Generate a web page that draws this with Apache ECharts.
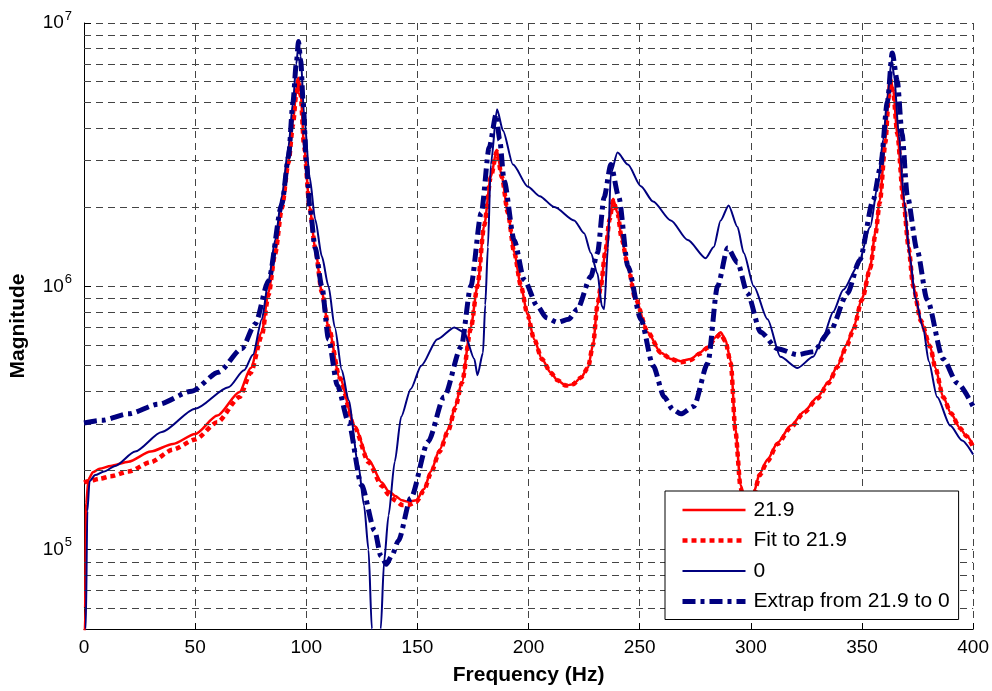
<!DOCTYPE html>
<html>
<head>
<meta charset="utf-8">
<script src="https://cdn.jsdelivr.net/npm/echarts@6/dist/echarts.min.js"></script>
<style>
  html, body { margin: 0; padding: 0; background: #fff; }
  #chart { width: 992px; height: 691px; }
</style>
</head>
<body>
<div id="chart"></div>
<script>
// Frequency response magnitudes (Hz vs. magnitude, log scale)

const freqMeas = [0, 0.5, 1, 2, 4, 7, 12, 20, 30, 40, 50, 60, 70, 75, 80, 83, 86, 89, 92, 94, 95.5, 96.5, 97.5, 99, 101.5, 104, 107, 110, 115, 121.7, 128, 134, 137, 140, 143, 146, 149.5, 153, 156, 160, 164, 167, 170, 174, 177, 180, 183, 185.7, 188, 190.7, 193.5, 196.6, 199.5, 202.5, 206, 210, 213, 216.8, 220, 223.5, 226.7, 229, 231, 232.5, 234.5, 236.5, 238, 240, 242, 244.7, 248, 253.6, 259.5, 264, 268.5, 273, 277, 280.6, 284, 286.4, 288.5, 291, 293, 295.4, 298, 301.3, 304, 307.5, 312, 318, 324, 330, 335, 339, 343, 346, 350, 353.7, 356, 358, 360.5, 362, 362.7, 364, 365.9, 368.6, 371, 373, 376.5, 380.7, 383, 386.5, 390, 394, 397, 400];
const magMeas = [3e4, 6e4, 1.5e5, 1.85e5, 1.97e5, 2.03e5, 2.08e5, 2.16e5, 2.36e5, 2.52e5, 2.75e5, 3.23e5, 3.97e5, 4.9e5, 6.7e5, 9.5e5, 1.35e6, 2e6, 3e6, 4.2e6, 5.5e6, 6.2e6, 5.4e6, 3.4e6, 2e6, 1.4e6, 9.5e5, 7e5, 4.5e5, 2.95e5, 2.2e5, 1.8e5, 1.67e5, 1.6e5, 1.54e5, 1.52e5, 1.54e5, 1.7e5, 1.98e5, 2.4e5, 2.88e5, 3.5e5, 4.33e5, 7e5, 1.0e6, 1.7e6, 2.6e6, 3.3e6, 2.6e6, 1.9e6, 1.35e6, 1e6, 7.8e5, 6.3e5, 5.3e5, 4.7e5, 4.4e5, 4.2e5, 4.25e5, 4.5e5, 4.9e5, 6e5, 8.5e5, 1.0e6, 1.35e6, 1.8e6, 2.15e6, 1.9e6, 1.5e6, 1.19e6, 9e5, 6.7e5, 5.6e5, 5.3e5, 5.2e5, 5.3e5, 5.6e5, 5.9e5, 6.4e5, 6.7e5, 6.3e5, 5.2e5, 2.9e5, 1.76e5, 1.3e5, 1.65e5, 1.95e5, 2.2e5, 2.55e5, 2.96e5, 3.35e5, 3.8e5, 4.35e5, 5e5, 6e5, 6.9e5, 9e5, 1.19e6, 1.6e6, 2.12e6, 3.6e6, 5.3e6, 6.2e6, 5.6e6, 3.8e6, 2.12e6, 1.4e6, 1e6, 7.4e5, 5.9e5, 4.9e5, 3.8e5, 3.3e5, 2.9e5, 2.7e5, 2.5e5];

const freqFit = [0, 2, 7, 12, 20, 30, 40, 50, 60, 70, 75, 80, 83, 86, 89, 92, 94, 95.5, 96.5, 97.5, 99, 101.5, 104, 107, 110, 115, 121.7, 128, 134, 137, 140, 143, 146, 149.5, 153, 156, 160, 164, 167, 170, 174, 177, 180, 183, 185.7, 188, 190.7, 193.5, 196.6, 199.5, 202.5, 206, 210, 213, 216.8, 220, 223.5, 226.7, 229, 231, 232.5, 234.5, 236.5, 238, 240, 242, 244.7, 248, 253.6, 259.5, 264, 268.5, 273, 277, 280.6, 284, 286.4, 288.5, 291, 293, 295.4, 298, 301.3, 304, 307.5, 312, 318, 324, 330, 335, 339, 343, 346, 350, 353.7, 356, 358, 360.5, 362, 362.7, 364, 365.9, 368.6, 371, 373, 376.5, 380.7, 383, 386.5, 390, 394, 397, 400];
const magFit = [1.8e5, 1.82e5, 1.86e5, 1.9e5, 1.98e5, 2.15e5, 2.4e5, 2.62e5, 3.05e5, 3.8e5, 4.7e5, 6.5e5, 9.3e5, 1.33e6, 1.98e6, 2.95e6, 4.1e6, 5.4e6, 6.1e6, 5.3e6, 3.4e6, 2e6, 1.4e6, 9.5e5, 7e5, 4.5e5, 2.92e5, 2.15e5, 1.75e5, 1.62e5, 1.54e5, 1.48e5, 1.48e5, 1.52e5, 1.68e5, 1.95e5, 2.36e5, 2.85e5, 3.45e5, 4.3e5, 6.9e5, 1.0e6, 1.7e6, 2.6e6, 3.25e6, 2.6e6, 1.9e6, 1.35e6, 1e6, 7.8e5, 6.3e5, 5.3e5, 4.7e5, 4.4e5, 4.2e5, 4.25e5, 4.5e5, 4.9e5, 6e5, 8.5e5, 1.0e6, 1.35e6, 1.8e6, 2.12e6, 1.9e6, 1.5e6, 1.19e6, 9e5, 6.7e5, 5.6e5, 5.3e5, 5.15e5, 5.25e5, 5.55e5, 5.85e5, 6.35e5, 6.6e5, 6.2e5, 5.1e5, 2.85e5, 1.72e5, 1.28e5, 1.62e5, 1.92e5, 2.17e5, 2.52e5, 2.92e5, 3.32e5, 3.75e5, 4.3e5, 4.95e5, 5.9e5, 6.8e5, 8.9e5, 1.17e6, 1.57e6, 2.08e6, 3.5e6, 5.2e6, 6.1e6, 5.5e6, 3.8e6, 2.12e6, 1.4e6, 1e6, 7.4e5, 5.9e5, 4.9e5, 3.8e5, 3.3e5, 2.9e5, 2.7e5, 2.45e5];

const freqZero = [0, 0.8, 1.5, 2.5, 5, 9, 14, 23, 35, 50, 65, 72, 76, 80, 83, 86, 89, 92, 94, 95.5, 96.5, 97.5, 99, 101.5, 104, 107, 110, 112.8, 116, 119, 123.4, 126, 128, 129.5, 130.5, 132.5, 133.5, 135, 137, 139.8, 142.7, 147, 151.7, 159, 166.6, 171, 175.6, 177, 179.5, 180.5, 181.7, 183, 185.8, 188.5, 193, 199.7, 205, 211.6, 220.5, 225, 228, 231, 233, 234, 235.7, 237, 240, 244.7, 250.5, 256, 264, 271.6, 279.7, 283.3, 286.4, 290, 294, 296.8, 301.3, 307.5, 313.3, 321, 328, 332.7, 337, 341.6, 348, 353.7, 357, 359.5, 361.5, 363.3, 364.5, 366.5, 369, 371.5, 374, 377.6, 380, 383.8, 389.7, 395, 400];
const magZero = [2e4, 5e4, 1.4e5, 1.82e5, 1.92e5, 1.98e5, 2.08e5, 2.36e5, 2.8e5, 3.43e5, 4.14e5, 4.8e5, 5.5e5, 7.5e5, 1.05e6, 1.5e6, 2.2e6, 3.4e6, 5e6, 7e6, 8.3e6, 7.5e6, 4.5e6, 2.6e6, 1.8e6, 1.3e6, 1e6, 7e5, 4.8e5, 3.7e5, 2.1e5, 1.47e5, 1e5, 5e4, 2e4, 2e4, 5e4, 9e4, 1.35e5, 2.16e5, 3.2e5, 4.08e5, 5e5, 6.3e5, 6.98e5, 6.7e5, 5.3e5, 4.6e5, 5.6e5, 8.5e5, 1.41e6, 2.9e6, 4.7e6, 3.9e6, 2.9e6, 2.39e6, 2.2e6, 2e6, 1.78e6, 1.59e6, 1.34e6, 1.12e6, 8.4e5, 8.2e5, 1.4e6, 2.68e6, 3.22e6, 2.9e6, 2.4e6, 2.1e6, 1.78e6, 1.5e6, 1.28e6, 1.41e6, 1.78e6, 2.03e6, 1.68e6, 1.34e6, 1e6, 7.5e5, 5.4e5, 4.9e5, 5.4e5, 6.5e5, 8e5, 9.7e5, 1.19e6, 1.68e6, 2.4e6, 3.6e6, 5.3e6, 7.2e6, 6.3e6, 3.8e6, 2.1e6, 1.3e6, 9e5, 6.9e5, 5.2e5, 3.8e5, 2.96e5, 2.6e5, 2.3e5];

const freqExtrap = [0, 8, 20, 33.5, 48.5, 60.5, 71, 77, 83, 89, 92, 94, 95.5, 96.5, 97.5, 98.6, 100, 101.6, 104, 107, 110, 114, 119, 124.8, 130.8, 133.5, 136, 138.5, 141.4, 147, 154.8, 162, 169.7, 174, 178.7, 182.3, 185.4, 187, 189, 193.5, 198, 204, 208, 213, 218, 222, 228, 231, 234, 237, 240.6, 244.7, 250.5, 256, 261, 265, 268.5, 274.3, 280.6, 285, 289.6, 294, 298.5, 304.4, 312, 321, 328, 335.8, 343.4, 349, 355, 358.3, 361.4, 363.6, 365.9, 368, 370.4, 374.8, 379.3, 386.5, 392.8, 400];
const magExtrap = [3.03e5, 3.1e5, 3.28e5, 3.57e5, 4.0e5, 4.72e5, 5.8e5, 7.2e5, 1.05e6, 2.05e6, 3.1e6, 5e6, 7e6, 8.5e6, 7.2e6, 5e6, 3e6, 2e6, 1.4e6, 1e6, 6.3e5, 4.2e5, 3.05e5, 1.76e5, 1.18e5, 9.5e4, 8.8e4, 9.5e4, 1.08e5, 1.57e5, 2.57e5, 3.8e5, 5.9e5, 1.0e6, 1.9e6, 3.37e6, 4.5e6, 3.6e6, 2.52e6, 1.5e6, 1.06e6, 8.4e5, 7.6e5, 7.3e5, 7.5e5, 8.2e5, 1.09e6, 1.34e6, 2.18e6, 2.9e6, 2.18e6, 1.19e6, 7.5e5, 5e5, 3.8e5, 3.4e5, 3.28e5, 3.5e5, 5.1e5, 1.0e6, 1.4e6, 1.23e6, 9.4e5, 6.7e5, 5.8e5, 5.5e5, 5.65e5, 6.8e5, 9.4e5, 1.26e6, 2.12e6, 2.83e6, 5e6, 7.7e6, 6e6, 3.8e6, 2.2e6, 1.37e6, 8.9e5, 5.3e5, 4.3e5, 3.5e5];

const seriesNames = ['21.9', 'Fit to 21.9', '0', 'Extrap from 21.9 to 0'];
const xTicks = [0, 50, 100, 150, 200, 250, 300, 350, 400];
const minorGridValues = [6e4, 7e4, 8e4, 9e4, 2e5, 3e5, 4e5, 5e5, 6e5, 7e5, 8e5, 9e5, 2e6, 3e6, 4e6, 5e6, 6e6, 7e6, 8e6, 9e6];

const RED = '#ff0000';
const NAVY = '#00007f';
const GRID = '#444444';
const FONT = 'Arial, "Liberation Sans", Helvetica, sans-serif';

// line styles shared by the plotted series and their legend samples
const styles = [
  { color: RED, width: 2.5, type: 'solid' },
  { color: RED, width: 4.5, type: [5, 4] },
  { color: NAVY, width: 2, type: 'solid' },
  { color: NAVY, width: 5, type: [13, 5, 4, 5] }
];

function pairs(xs, ys) {
  return xs.map((x, i) => [x, ys[i]]);
}

const chart = echarts.init(document.getElementById('chart'), null, { renderer: 'canvas' });

const lineBase = { type: 'line', symbol: 'none', showSymbol: false, smooth: 0.25, smoothMonotone: 'x', clip: true, animation: false };

const datasets = [
  pairs(freqMeas, magMeas),
  pairs(freqFit, magFit),
  pairs(freqZero, magZero),
  pairs(freqExtrap, magExtrap)
];

const curveSeries = seriesNames.map((name, i) => Object.assign({}, lineBase, {
  name: name,
  z: 3 + i,
  data: datasets[i],
  lineStyle: Object.assign({}, styles[i]),
  itemStyle: { color: styles[i].color }
}));

chart.setOption({
  backgroundColor: '#ffffff',
  animation: false,
  grid: { left: 82, right: 18, top: 23, bottom: 59, containLabel: false },
  xAxis: {
    type: 'value',
    min: 0, max: 400, interval: 50,
    name: 'Frequency (Hz)',
    nameLocation: 'middle',
    nameGap: 36,
    nameTextStyle: { fontFamily: FONT, fontSize: 21, fontWeight: 'bold', color: '#000' },
    axisLine: { show: true, lineStyle: { color: '#000', width: 1 } },
    axisTick: { show: true, inside: true, length: 6, lineStyle: { color: '#000' } },
    axisLabel: {
      fontFamily: FONT, fontSize: 19, color: '#000', margin: 9,
      formatter: v => (xTicks.indexOf(v) >= 0 ? String(v) : '')
    },
    splitLine: { show: true, lineStyle: { color: GRID, type: [7, 5], width: 1 } }
  },
  yAxis: {
    type: 'log',
    logBase: 10,
    min: 5e4, max: 1e7,
    name: 'Magnitude',
    nameLocation: 'middle',
    nameGap: 55,
    nameRotate: 90,
    nameTextStyle: { fontFamily: FONT, fontSize: 21, fontWeight: 'bold', color: '#000' },
    axisLine: { show: true, lineStyle: { color: '#000', width: 1 } },
    axisTick: { show: true, inside: true, length: 7, lineStyle: { color: '#000' } },
    axisLabel: {
      margin: 12,
      formatter: function (v) {
        const e = Math.round(Math.log10(v));
        if (Math.abs(Math.pow(10, e) - v) / v > 1e-6) return '';
        return '{b|10}{s|' + e + '}';
      },
      rich: {
        b: { fontFamily: FONT, fontSize: 19, color: '#000' },
        s: { fontFamily: FONT, fontSize: 13, color: '#000', padding: [0, 0, 14, 1] }
      }
    },
    splitLine: { show: true, lineStyle: { color: GRID, type: [7, 5], width: 1 } }
  },
  legend: {
    data: seriesNames.map((name, i) => ({
      name: name,
      itemStyle: { opacity: 0, color: 'rgba(0,0,0,0)', borderWidth: 0 },
      lineStyle: { width: styles[i].width, type: styles[i].type, color: styles[i].color }
    })),
    orient: 'vertical',
    left: 665, top: 491,
    z: 20,
    padding: [7, 9, 6, 15],
    itemGap: 6.5,
    itemWidth: 63,
    itemHeight: 16,
    backgroundColor: '#ffffff',
    borderColor: '#000000',
    borderWidth: 1,
    borderRadius: 0,
    selectedMode: false,
    textStyle: { fontFamily: FONT, fontSize: 21, color: '#000', padding: [0, 0, 0, 3], lineHeight: 24 }
  },
  series: [
    {
      // extra y grid lines at 2..9 within each decade
      name: 'minor-grid', type: 'line', data: [], silent: true, z: 1,
      markLine: {
        silent: true, symbol: ['none', 'none'], animation: false,
        label: { show: false },
        lineStyle: { color: GRID, type: [7, 5], width: 1 },
        emphasis: { disabled: true },
        data: minorGridValues.map(v => ({ yAxis: v }))
      }
    }
  ].concat(curveSeries)
});
</script>
</body>
</html>
